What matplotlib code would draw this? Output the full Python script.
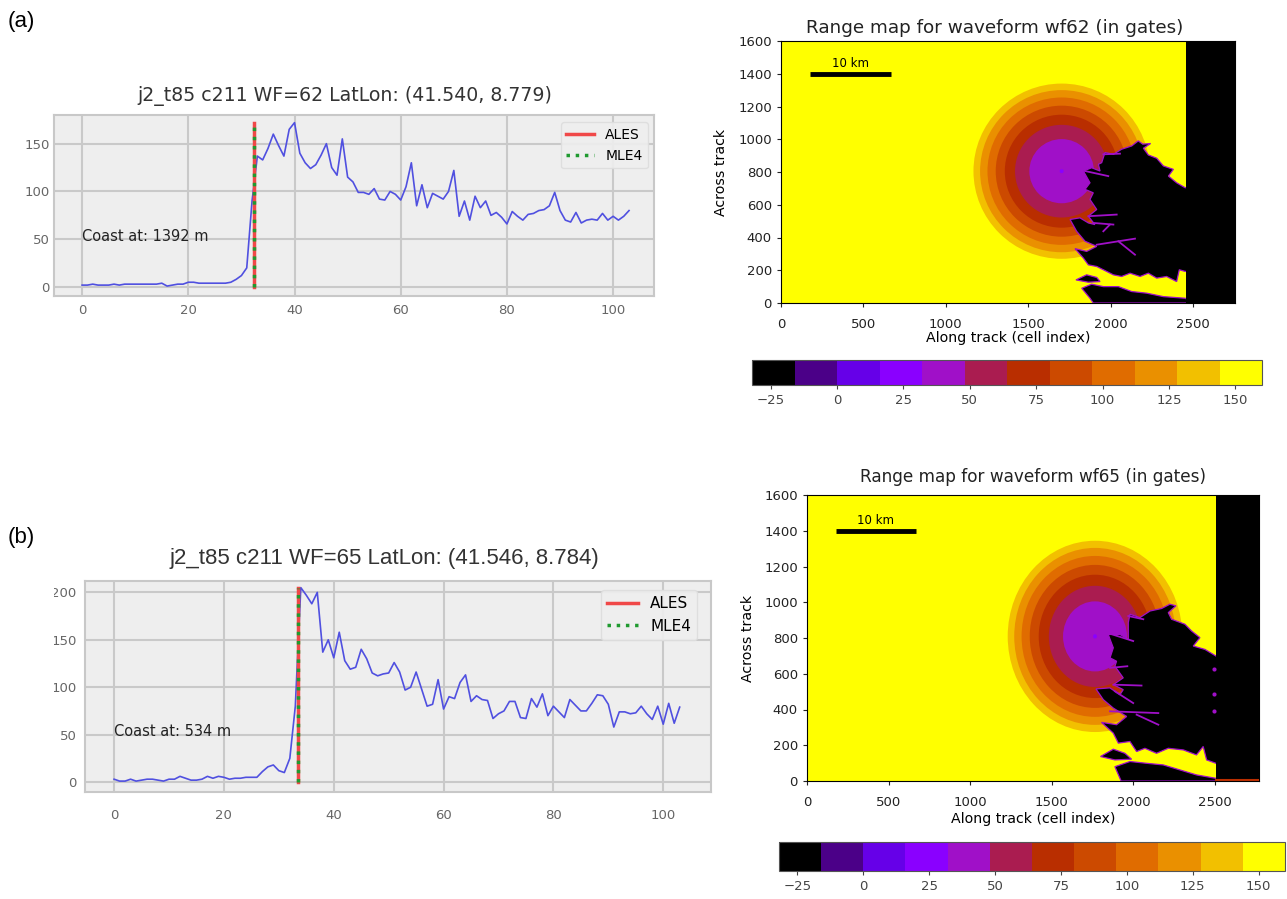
from matplotlib import pyplot as plt
from matplotlib.colors import ListedColormap, Normalize
from matplotlib.cm import ScalarMappable
from matplotlib.patches import Circle, Polygon, Rectangle

# waveforms (power vs gate)
wf62 = [2, 2, 3, 2, 2, 2, 3, 2, 3, 3, 3, 3, 3, 3, 3, 4, 1, 2, 3, 3, 5, 5, 4, 4, 4, 4, 4, 4, 5, 8,
        12, 20, 90, 137, 133, 145, 160, 148, 137, 165, 172, 140, 130, 124, 128, 138, 150, 125, 117, 155,
        115, 110, 99, 99, 97, 103, 92, 91, 100, 97, 91, 105, 130, 85, 107, 83, 98, 95, 92, 100,
        122, 74, 90, 70, 95, 83, 90, 75, 78, 73, 66, 79, 74, 70, 76, 77, 80, 81, 85, 99,
        80, 70, 68, 78, 67, 70, 71, 70, 77, 70, 74, 70, 74, 80]
wf65 = [3, 1, 1, 3, 1, 2, 3, 3, 2, 1, 3, 3, 6, 4, 2, 2, 3, 6, 4, 6, 5, 3, 4, 4, 5, 5, 5, 11, 16, 18,
        12, 10, 25, 80, 205, 197, 188, 200, 137, 150, 131, 158, 128, 119, 121, 140, 130, 115, 112, 114,
        115, 126, 116, 97, 100, 116, 98, 80, 82, 108, 77, 90, 88, 105, 113, 85, 91, 87, 86, 67,
        72, 75, 85, 85, 68, 67, 88, 79, 93, 70, 80, 74, 68, 87, 81, 75, 75, 83, 92, 91,
        82, 58, 74, 74, 72, 73, 80, 72, 66, 80, 61, 83, 62, 79]
retrack62 = 32.3
retrack65 = 33.5
coast62 = 'Coast at: 1392 m'
coast65 = 'Coast at: 534 m'
title62 = 'j2_t85 c211 WF=62 LatLon: (41.540, 8.779)'
title65 = 'j2_t85 c211 WF=65 LatLon: (41.546, 8.784)'

# range map levels (gates) and the radius of each ring around the nadir point
ring_levels = [136, 120, 104, 88, 72, 56, 40]
ring_radii = [535, 495, 450, 400, 345, 283, 196]
sea_level = 152
land_level = -24
cbar_ticks = [-25, 0, 25, 50, 75, 100, 125, 150]
bar_colors = ['#000000', '#4b0088', '#6600e8', '#8a00ff', '#a010c8', '#aa1c50',
              '#b92e00', '#cc4a00', '#e06c00', '#ea9000', '#f2c000', '#ffff00']

# coastline
centre62 = (1703, 805)
centre65 = (1765, 809)
land62 = [(1946, 857), (1966, 919), (2017, 908), (2067, 939), (2128, 959), (2168, 990), (2195, 970),
          (2243, 974), (2199, 945), (2229, 904), (2280, 884), (2320, 837), (2381, 816), (2351, 775),
          (2401, 734), (2452, 704), (2492, 704), (2492, 193), (2452, 193), (2417, 203), (2401, 131),
          (2340, 162), (2280, 152), (2229, 182), (2179, 162), (2118, 182), (2067, 162), (2017, 172),
          (1956, 203), (1916, 223), (1865, 233), (1835, 274), (1784, 332), (1855, 315), (1916, 346),
          (1845, 377), (1794, 438), (1754, 510), (1814, 520), (1865, 489), (1905, 479), (1865, 530),
          (1916, 571), (1875, 632), (1895, 673), (1845, 694), (1875, 734), (1835, 806), (1885, 826),
          (1936, 806), (1926, 847)]
island62 = [(1825, 90), (1885, 115), (1956, 100), (2047, 100), (2128, 70), (2219, 60), (2320, 39),
            (2452, 29), (2492, 9), (2492, 0), (1895, 0), (1875, 29)]
spit62 = [(1790, 141), (1855, 172), (1916, 156), (1936, 131), (1865, 127)]
streaks62 = [[(1865, 530), (2037, 540)], [(1895, 489), (2017, 479)], [(1956, 438), (1996, 479)],
             [(1916, 356), (2148, 393)], [(2047, 377), (2148, 295)], [(1956, 908), (2057, 912)],
             [(1845, 806), (1986, 775)]]
land65 = [(1969, 886), (1979, 933), (2040, 914), (2102, 951), (2173, 965), (2224, 989), (2261, 980),
          (2214, 942), (2234, 905), (2316, 877), (2357, 839), (2408, 802), (2367, 755), (2439, 736),
          (2506, 699), (2541, 699), (2541, 99), (2506, 99), (2449, 118), (2428, 193), (2387, 146),
          (2306, 174), (2214, 183), (2142, 155), (2071, 183), (2020, 165), (1979, 221), (1908, 212),
          (1877, 268), (1805, 328), (1897, 315), (1959, 361), (1877, 408), (1816, 455), (1771, 515),
          (1856, 521), (1918, 483), (1938, 511), (1877, 539), (1938, 577), (1887, 642), (1897, 670),
          (1857, 689), (1877, 745), (1846, 820), (1918, 820), (1969, 792)]
island65 = [(1887, 80), (1979, 109), (2081, 99), (2183, 90), (2285, 62), (2387, 34), (2506, 15),
            (2541, 6), (2541, 0), (1925, 0)]
spit65 = [(1799, 137), (1877, 178), (1948, 155), (1989, 122), (1887, 118)]
streaks65 = [[(1857, 633), (1963, 642)], [(1877, 539), (2050, 534)], [(1887, 502), (1999, 436)],
             [(1857, 390), (2153, 380)], [(2020, 371), (2153, 315)], [(1969, 923), (2061, 905)],
             [(1836, 830), (1999, 783)]]
spots65 = [(2494, 629), (2494, 489), (2494, 390)]

W, H = 1287, 899
fig = plt.figure(figsize=(W / 100, H / 100), dpi=100)
cmap = ListedColormap(bar_colors)
norm = Normalize(-32, 160)


# axes placed by pixel edges of the picture
def eixo(esq, topo, dir, base):
    return fig.add_axes([esq / W, 1 - base / H, (dir - esq) / W, (base - topo) / H])


def waveform(ax, y, retrack, coast, title, xlim, ylim, yticks, tsize, tx, tpad, font, xpad, ypad, leg, legsize):
    ax.set_facecolor('#eeeeee')
    ax.grid(True, color='#c9c9c9', lw=1.5)
    ax.set_axisbelow(True)
    ax.plot(range(len(y)), y, color='#5050e0', lw=1.2)
    ax.plot([retrack, retrack], [0, max(y)], color='#f04848', lw=2.5, label='ALES')
    ax.plot([retrack, retrack], [0, max(y)], color='#1f9a2f', lw=2.5, ls=':', label='MLE4')
    ax.text(0, 53, coast, fontsize=10.5, va='center', color='#222222')
    ax.set_xlim(xlim)
    ax.set_ylim(ylim)
    ax.set_xticks([0, 20, 40, 60, 80, 100])
    ax.set_yticks(yticks)
    ax.tick_params(colors='#666666', labelsize=9.5, length=0)
    ax.tick_params(axis='x', pad=xpad)
    ax.tick_params(axis='y', pad=ypad)
    for s in ax.spines.values():
        s.set_color('#c8c8c8')
        s.set_linewidth(1.5)
    ax.set_title(title, fontsize=tsize, color='#333333', pad=tpad, x=tx, family=font)
    ax.legend(loc='upper right', bbox_to_anchor=leg, borderaxespad=0, fontsize=legsize,
              facecolor='#eeeeee', edgecolor='#dddddd', framealpha=0.9)


def mapa(ax, centre, land, island, spit, streaks, band, xmax, wf, tsize, tx, tpad, xpad, spots=None):
    ax.set_facecolor(cmap(norm(sea_level)))
    for v, r in zip(ring_levels, ring_radii):
        ax.add_patch(Circle(centre, r, color=cmap(norm(v)), lw=0))
    ax.add_patch(Circle(centre, 12, color=cmap(norm(24)), lw=0))
    black = cmap(norm(land_level))
    fringe = cmap(norm(40))
    for poly in (land, island, spit):
        ax.add_patch(Polygon(poly, facecolor=black, edgecolor=fringe, lw=0.9))
    for s in streaks:
        ax.plot(*zip(*s), color=fringe, lw=1.3)
    ax.add_patch(Rectangle((band, 0), xmax - band, 1600, color=black, lw=0, zorder=3))
    if spots:
        ax.scatter(*zip(*spots), s=9, color=fringe, lw=0, zorder=4)
        ax.plot([band, xmax], [6, 6], color=cmap(norm(72)), lw=1.5, zorder=4)
    ax.plot([175, 670], [1400, 1400], color='black', lw=3.5, solid_capstyle='butt')
    ax.text(420, 1420, '10 km', fontsize=8.5, ha='center', va='bottom')
    ax.set_xlim(0, xmax)
    ax.set_ylim(0, 1600)
    ax.set_xticks(range(0, 3000, 500))
    ax.set_yticks(range(0, 1800, 200))
    ax.tick_params(labelsize=9.5, colors='#222222', length=3)
    ax.tick_params(axis='x', pad=8)
    ax.set_title(f'Range map for waveform {wf} (in gates)', fontsize=tsize, color='#222222', pad=tpad, x=tx)
    ax.set_xlabel('Along track (cell index)', fontsize=10.2, labelpad=xpad)
    ax.set_ylabel('Across track', fontsize=10.2, labelpad=7)


def barra(cax):
    cb = fig.colorbar(ScalarMappable(norm=norm, cmap=cmap), cax=cax, orientation='horizontal')
    cb.set_ticks(cbar_ticks)
    cb.ax.tick_params(labelsize=9.5, colors='#444444', length=3)
    cb.outline.set_edgecolor('#555555')


waveform(eixo(54, 115, 654, 296), wf62, retrack62, coast62, title62,
         (-5.3, 107.7), (-9.4, 180), [0, 50, 100, 150], 13.6, 0.485, 10, 'DejaVu Sans', 6, 3,
         (0.99, 0.96), 10)
waveform(eixo(85, 581, 711, 792), wf65, retrack65, coast65, title65,
         (-5.3, 108.7), (-10.5, 212), [0, 50, 100, 150, 200], 16, 0.478, 12, 'Liberation Sans', 12, 6,
         (0.978, 0.957), 11)

mapa(eixo(781, 41, 1235, 303), centre62, land62, island62, spit62, streaks62, 2455, 2755, 'wf62', 13.2, 0.47, 6, 0)
mapa(eixo(807, 495, 1259, 781), centre65, land65, island65, spit65, streaks65, 2506, 2770, 'wf65', 12.2, 0.5, 9, 2,
     spots=spots65)

barra(eixo(752, 360, 1262, 385))
barra(eixo(779, 842, 1285, 871))

fig.text(8 / W, 1 - 22 / H, '(a)', fontsize=16, family='Liberation Sans', va='center')
fig.text(8 / W, 1 - 537 / H, '(b)', fontsize=16, family='Liberation Sans', va='center')

# the left edge of panel (b) labels is cut off in the original
fig.add_artist(Rectangle((40 / W, 1 - 700 / H), 14 / W, 120 / H, transform=fig.transFigure,
                         facecolor='white', edgecolor='none', zorder=10))

fig.savefig('out.png', dpi=100)
